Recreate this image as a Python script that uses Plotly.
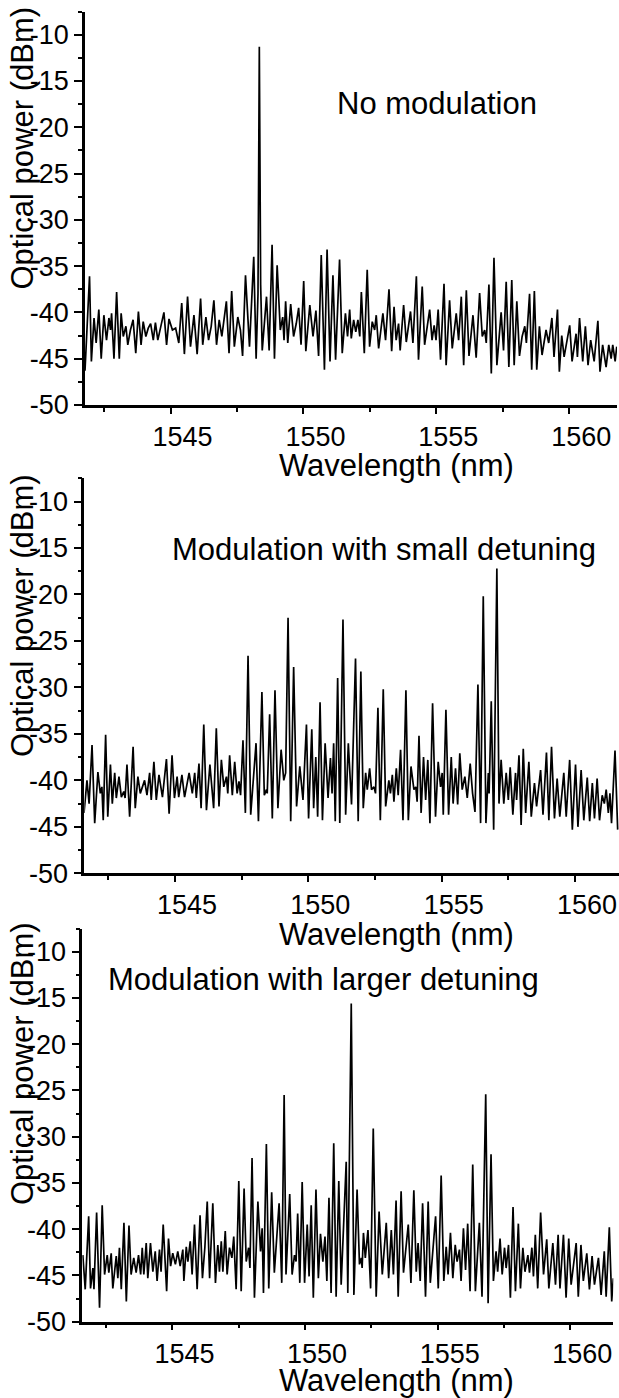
import plotly.graph_objects as go

# ---------------- data (wavelength in nm, optical power in dBm) ----------------
wl_none = [1541.78, 1541.95, 1542.02, 1542.12, 1542.20, 1542.30, 1542.39, 1542.49, 1542.59, 1542.68,
           1542.74, 1542.78, 1542.87, 1542.97, 1543.07, 1543.14, 1543.22, 1543.32, 1543.39, 1543.49,
           1543.59, 1543.69, 1543.79, 1543.89, 1543.97, 1544.07, 1544.16, 1544.25, 1544.35, 1544.43,
           1544.52, 1544.62, 1544.75, 1544.85, 1544.94, 1545.07, 1545.19, 1545.31, 1545.42, 1545.52,
           1545.64, 1545.75, 1545.88, 1546.00, 1546.13, 1546.21, 1546.33, 1546.43, 1546.53, 1546.63,
           1546.73, 1546.83, 1546.93, 1547.10, 1547.20, 1547.30, 1547.40, 1547.53, 1547.63, 1547.71,
           1547.82, 1547.97, 1548.13, 1548.22, 1548.29, 1548.34, 1548.39, 1548.45, 1548.61, 1548.71,
           1548.82, 1548.91, 1549.01, 1549.13, 1549.22, 1549.27, 1549.33, 1549.41, 1549.52, 1549.63,
           1549.73, 1549.82, 1549.91, 1550.01, 1550.09, 1550.24, 1550.36, 1550.47, 1550.57, 1550.67,
           1550.79, 1550.89, 1551.00, 1551.11, 1551.21, 1551.36, 1551.46, 1551.58, 1551.66, 1551.74,
           1551.80, 1551.89, 1551.97, 1552.05, 1552.12, 1552.18, 1552.29, 1552.40, 1552.49, 1552.59,
           1552.68, 1552.74, 1552.83, 1552.99, 1553.09, 1553.22, 1553.32, 1553.41, 1553.49, 1553.58,
           1553.64, 1553.77, 1553.87, 1554.03, 1554.12, 1554.25, 1554.33, 1554.47, 1554.56, 1554.75,
           1554.84, 1554.92, 1554.99, 1555.07, 1555.16, 1555.29, 1555.37, 1555.50, 1555.60, 1555.75,
           1555.84, 1555.94, 1556.03, 1556.13, 1556.23, 1556.38, 1556.50, 1556.63, 1556.73, 1556.82,
           1556.88, 1556.98, 1557.07, 1557.17, 1557.28, 1557.44, 1557.53, 1557.63, 1557.73, 1557.84,
           1557.93, 1558.03, 1558.13, 1558.23, 1558.33, 1558.39, 1558.51, 1558.59, 1558.69, 1558.78,
           1558.88, 1558.98, 1559.13, 1559.23, 1559.35, 1559.43, 1559.56, 1559.63, 1559.72, 1559.81,
           1559.91, 1560.02, 1560.11, 1560.26, 1560.31, 1560.39, 1560.51, 1560.61, 1560.71, 1560.81,
           1560.94, 1561.08, 1561.16, 1561.26, 1561.39, 1561.49, 1561.58, 1561.64, 1561.73, 1561.79]
p_none = [-46.3, -36.1, -45.3, -40.6, -43.3, -39.7, -45.0, -40.3, -43.0, -40.6,
          -41.9, -40.1, -45.0, -37.8, -45.0, -40.1, -42.6, -41.5, -43.5, -41.9,
          -40.8, -44.4, -39.9, -43.5, -41.0, -42.6, -41.7, -41.2, -43.0, -41.1,
          -43.0, -41.7, -40.0, -43.5, -40.7, -41.9, -41.7, -43.3, -39.0, -44.5,
          -38.3, -43.7, -40.3, -44.5, -38.5, -43.5, -40.5, -43.0, -41.5, -38.7,
          -43.5, -40.8, -42.6, -38.8, -44.4, -37.7, -43.7, -40.5, -41.9, -44.7,
          -36.0, -43.7, -34.0, -45.0, -38.0, -11.3, -37.0, -44.1, -38.3, -44.1,
          -32.7, -45.0, -34.9, -41.9, -40.5, -43.0, -38.8, -43.3, -39.1, -42.6,
          -41.2, -39.5, -43.5, -36.6, -44.2, -39.2, -42.6, -39.8, -44.7, -33.8,
          -46.2, -33.2, -45.3, -36.0, -45.1, -34.3, -44.4, -40.1, -42.6, -39.7,
          -42.8, -40.8, -42.1, -40.8, -42.6, -37.8, -44.4, -35.4, -43.7, -41.0,
          -41.9, -40.3, -43.9, -40.1, -43.0, -37.5, -44.2, -39.4, -43.0, -41.2,
          -44.1, -39.2, -43.2, -39.9, -43.3, -36.1, -45.1, -37.2, -43.5, -39.7,
          -43.0, -41.4, -43.0, -39.7, -45.1, -36.9, -45.7, -38.7, -43.9, -40.1,
          -43.0, -38.3, -45.7, -37.6, -44.7, -40.3, -44.9, -37.9, -42.6, -41.9,
          -43.3, -37.0, -46.6, -34.1, -45.7, -40.0, -44.1, -36.7, -45.9, -36.5,
          -45.7, -38.8, -44.7, -42.6, -41.5, -43.3, -38.0, -46.2, -37.7, -46.2,
          -41.5, -44.6, -41.9, -43.3, -40.6, -44.8, -39.7, -46.4, -42.5, -44.8,
          -43.0, -41.4, -45.3, -42.3, -44.8, -40.6, -45.3, -41.5, -45.7, -43.0,
          -45.3, -40.9, -46.4, -43.5, -45.9, -43.5, -45.0, -43.5, -45.3, -43.7]

wl_small = [1541.59, 1541.70, 1541.78, 1541.89, 1541.99, 1542.11, 1542.20, 1542.26, 1542.31, 1542.40,
            1542.48, 1542.58, 1542.65, 1542.74, 1542.80, 1542.90, 1542.99, 1543.08, 1543.13, 1543.20,
            1543.30, 1543.43, 1543.51, 1543.61, 1543.70, 1543.86, 1543.95, 1544.05, 1544.11, 1544.21,
            1544.30, 1544.40, 1544.53, 1544.68, 1544.78, 1544.89, 1544.98, 1545.08, 1545.14, 1545.26,
            1545.36, 1545.53, 1545.65, 1545.74, 1545.80, 1545.90, 1545.98, 1546.08, 1546.18, 1546.31,
            1546.45, 1546.55, 1546.65, 1546.74, 1546.83, 1546.93, 1546.98, 1547.05, 1547.15, 1547.24,
            1547.33, 1547.40, 1547.46, 1547.55, 1547.64, 1547.74, 1547.84, 1547.94, 1548.04, 1548.13,
            1548.26, 1548.35, 1548.43, 1548.46, 1548.55, 1548.65, 1548.75, 1548.86, 1548.98, 1549.08,
            1549.15, 1549.24, 1549.34, 1549.45, 1549.56, 1549.68, 1549.80, 1549.93, 1550.01, 1550.13,
            1550.20, 1550.28, 1550.35, 1550.44, 1550.53, 1550.63, 1550.74, 1550.83, 1550.89, 1550.95,
            1551.01, 1551.10, 1551.18, 1551.30, 1551.40, 1551.50, 1551.62, 1551.77, 1551.87, 1551.97,
            1552.06, 1552.15, 1552.21, 1552.30, 1552.37, 1552.46, 1552.52, 1552.61, 1552.70, 1552.81,
            1552.90, 1553.02, 1553.08, 1553.15, 1553.21, 1553.30, 1553.37, 1553.46, 1553.55, 1553.66,
            1553.75, 1553.85, 1553.96, 1554.03, 1554.08, 1554.15, 1554.23, 1554.32, 1554.40, 1554.48,
            1554.56, 1554.66, 1554.77, 1554.87, 1554.96, 1555.02, 1555.06, 1555.16, 1555.26, 1555.36,
            1555.43, 1555.52, 1555.60, 1555.68, 1555.77, 1555.87, 1555.96, 1556.07, 1556.16, 1556.25,
            1556.36, 1556.46, 1556.56, 1556.66, 1556.75, 1556.78, 1556.86, 1556.95, 1557.07, 1557.15,
            1557.23, 1557.33, 1557.42, 1557.50, 1557.57, 1557.67, 1557.77, 1557.81, 1557.90, 1557.98,
            1558.06, 1558.15, 1558.27, 1558.36, 1558.48, 1558.56, 1558.71, 1558.80, 1558.93, 1559.02,
            1559.12, 1559.23, 1559.33, 1559.43, 1559.58, 1559.67, 1559.80, 1559.90, 1560.02, 1560.11,
            1560.23, 1560.33, 1560.46, 1560.55, 1560.65, 1560.73, 1560.83, 1560.92, 1561.02, 1561.10,
            1561.17, 1561.25, 1561.31, 1561.37, 1561.50, 1561.60]
p_small = [-43.5, -40.0, -42.5, -36.2, -44.6, -39.1, -41.4, -40.7, -44.3, -35.1,
           -43.9, -38.3, -42.5, -39.2, -41.9, -39.6, -41.8, -41.2, -41.9, -38.3,
           -43.9, -36.4, -43.0, -39.6, -41.4, -40.0, -41.6, -39.2, -42.1, -38.0,
           -42.1, -39.4, -41.8, -37.7, -43.6, -37.3, -41.9, -39.6, -41.8, -39.4,
           -41.8, -39.2, -41.4, -39.2, -41.9, -38.2, -43.0, -34.0, -43.2, -38.3,
           -43.0, -34.4, -42.8, -37.8, -40.7, -39.6, -41.4, -37.3, -41.6, -38.0,
           -41.4, -40.1, -41.6, -35.7, -43.5, -26.6, -43.7, -39.6, -36.0, -44.4,
           -30.5, -41.6, -41.0, -41.4, -32.9, -44.1, -30.3, -43.0, -36.7, -40.0,
           -39.2, -22.5, -44.4, -27.8, -42.8, -38.5, -42.1, -34.0, -44.1, -34.5,
           -43.0, -37.5, -43.9, -31.6, -44.3, -36.0, -41.9, -37.6, -41.4, -36.0,
           -44.4, -29.0, -44.6, -22.7, -43.7, -36.0, -42.6, -26.9, -44.4, -28.3,
           -43.0, -39.2, -41.0, -38.7, -41.0, -40.7, -41.4, -32.2, -44.3, -30.2,
           -42.8, -40.0, -41.4, -39.4, -42.3, -38.7, -41.6, -36.7, -44.3, -30.3,
           -44.3, -38.5, -41.0, -40.7, -42.3, -35.2, -43.5, -37.5, -42.1, -37.8,
           -44.6, -31.7, -43.9, -38.0, -40.7, -39.2, -43.7, -32.4, -43.7, -37.5,
           -42.5, -38.7, -42.6, -37.1, -41.0, -39.6, -41.9, -38.2, -41.4, -43.4,
           -29.7, -44.6, -20.2, -44.6, -39.2, -41.4, -31.5, -45.3, -17.2, -42.5,
           -37.8, -42.5, -39.2, -42.1, -38.6, -43.7, -39.2, -42.1, -37.3, -44.8,
           -36.6, -43.5, -38.0, -43.9, -40.3, -42.8, -38.9, -43.7, -37.0, -44.3,
           -36.4, -44.1, -39.8, -43.9, -39.2, -43.9, -37.8, -45.3, -38.3, -45.0,
           -38.9, -44.3, -39.7, -44.4, -40.3, -44.1, -39.8, -44.3, -41.6, -42.5,
           -41.0, -43.5, -41.4, -44.6, -36.8, -45.3]

wl_large = [1541.62, 1541.71, 1541.84, 1541.91, 1542.00, 1542.04, 1542.14, 1542.25, 1542.35, 1542.44,
            1542.54, 1542.60, 1542.69, 1542.75, 1542.88, 1542.94, 1543.00, 1543.07, 1543.17, 1543.26,
            1543.36, 1543.44, 1543.54, 1543.63, 1543.72, 1543.80, 1543.86, 1543.92, 1544.01, 1544.07,
            1544.17, 1544.26, 1544.35, 1544.42, 1544.51, 1544.57, 1544.65, 1544.78, 1544.85, 1544.93,
            1545.01, 1545.11, 1545.20, 1545.29, 1545.39, 1545.43, 1545.52, 1545.58, 1545.67, 1545.74,
            1545.83, 1545.93, 1546.04, 1546.13, 1546.22, 1546.31, 1546.40, 1546.52, 1546.62, 1546.71,
            1546.77, 1546.84, 1546.90, 1546.99, 1547.06, 1547.15, 1547.24, 1547.31, 1547.40, 1547.50,
            1547.59, 1547.70, 1547.78, 1547.87, 1547.92, 1548.00, 1548.09, 1548.22, 1548.32, 1548.38,
            1548.43, 1548.54, 1548.63, 1548.74, 1548.84, 1549.02, 1549.12, 1549.21, 1549.28, 1549.42,
            1549.51, 1549.60, 1549.66, 1549.72, 1549.80, 1549.89, 1549.98, 1550.08, 1550.15, 1550.23,
            1550.31, 1550.41, 1550.50, 1550.58, 1550.67, 1550.75, 1550.82, 1550.90, 1550.98, 1551.08,
            1551.17, 1551.27, 1551.36, 1551.55, 1551.61, 1551.74, 1551.84, 1551.96, 1552.05, 1552.12,
            1552.15, 1552.20, 1552.27, 1552.37, 1552.47, 1552.57, 1552.68, 1552.79, 1552.91, 1553.06,
            1553.15, 1553.25, 1553.33, 1553.43, 1553.51, 1553.62, 1553.71, 1553.89, 1553.99, 1554.10,
            1554.19, 1554.26, 1554.34, 1554.43, 1554.54, 1554.64, 1554.72, 1554.92, 1555.02, 1555.13,
            1555.23, 1555.32, 1555.39, 1555.48, 1555.57, 1555.66, 1555.73, 1555.82, 1555.88, 1555.97,
            1556.05, 1556.13, 1556.22, 1556.32, 1556.42, 1556.57, 1556.67, 1556.81, 1556.90, 1557.01,
            1557.10, 1557.20, 1557.26, 1557.35, 1557.43, 1557.52, 1557.58, 1557.67, 1557.74, 1557.84,
            1557.93, 1558.04, 1558.12, 1558.21, 1558.29, 1558.40, 1558.46, 1558.55, 1558.61, 1558.68,
            1558.77, 1558.88, 1558.99, 1559.11, 1559.19, 1559.34, 1559.44, 1559.54, 1559.61, 1559.74,
            1559.84, 1559.94, 1560.03, 1560.22, 1560.30, 1560.40, 1560.49, 1560.62, 1560.72, 1560.82,
            1560.91, 1561.06, 1561.16, 1561.28, 1561.35, 1561.47, 1561.56, 1561.62]
p_large = [-42.8, -46.5, -38.6, -46.4, -44.2, -46.5, -38.2, -48.5, -37.4, -44.9,
           -42.8, -44.7, -42.6, -46.4, -42.9, -45.3, -42.0, -46.5, -39.3, -47.8,
           -39.6, -44.9, -43.1, -44.7, -42.8, -44.9, -42.0, -44.9, -41.5, -45.3,
           -41.5, -44.6, -42.4, -45.6, -42.2, -44.6, -39.5, -46.7, -41.0, -44.0,
           -42.6, -43.8, -42.4, -44.0, -42.2, -45.6, -41.9, -43.5, -41.3, -44.9,
           -39.5, -46.5, -38.5, -45.3, -42.0, -37.0, -45.3, -37.2, -45.8, -41.7,
           -44.6, -41.3, -44.6, -40.2, -44.9, -42.0, -43.1, -40.8, -46.5, -34.8,
           -46.7, -35.6, -43.5, -42.0, -44.2, -32.3, -47.4, -37.0, -42.4, -39.9,
           -46.9, -30.8, -46.4, -36.0, -44.7, -37.2, -45.8, -25.5, -44.9, -36.2,
           -44.9, -42.8, -43.5, -38.3, -45.8, -34.9, -45.8, -39.5, -45.1, -37.4,
           -47.4, -35.7, -45.3, -40.5, -43.5, -40.8, -45.6, -36.6, -46.9, -30.7,
           -47.3, -34.8, -46.0, -32.7, -46.9, -15.6, -47.1, -35.7, -43.8, -43.1,
           -44.2, -40.4, -43.1, -40.1, -46.4, -29.1, -47.3, -38.1, -44.9, -39.3,
           -45.3, -40.1, -44.9, -36.9, -47.3, -35.9, -44.7, -39.5, -45.8, -35.8,
           -44.6, -41.5, -45.6, -37.2, -47.3, -37.0, -45.8, -38.6, -46.4, -34.2,
           -45.6, -41.9, -44.9, -40.4, -45.3, -41.7, -43.5, -42.2, -45.6, -39.9,
           -44.4, -39.4, -46.7, -33.0, -46.7, -39.3, -47.3, -25.4, -48.0, -31.9,
           -45.6, -42.4, -44.6, -41.0, -44.9, -42.0, -44.2, -41.7, -47.4, -37.6,
           -46.7, -39.4, -46.4, -42.0, -44.6, -42.8, -44.7, -42.0, -45.1, -40.6,
           -46.4, -38.2, -44.9, -41.1, -46.4, -41.5, -46.0, -40.6, -46.4, -40.6,
           -47.4, -41.0, -46.0, -41.5, -47.3, -41.7, -45.6, -42.6, -46.5, -42.9,
           -46.0, -43.1, -47.1, -42.4, -47.3, -39.8, -47.8, -45.3]

panel_labels = ["No modulation", "Modulation with small detuning", "Modulation with larger detuning"]
x_ticks = [1545, 1550, 1555, 1560]
y_ticks = [-50, -45, -40, -35, -30, -25, -20, -15, -10]
x_title = "Wavelength (nm)"
y_title = "Optical power (dBm)"

# ---------------- figure ----------------
W, H = 619, 1398
FONT = "Liberation Sans, Arial, sans-serif"

series = [(wl_none, p_none), (wl_small, p_small), (wl_large, p_large)]
# pixel geometry of each panel (left, right, top, bottom) and x range
panels = [
    dict(l=85, r=617, t=11.5, b=405, xr=[1541.78, 1561.8]),
    dict(l=84.3, r=619, t=478.3, b=873.3, xr=[1541.6, 1561.65]),
    dict(l=82.3, r=613.3, t=928.6, b=1321.7, xr=[1541.6, 1561.62]),
]

fig = go.Figure()
layout = dict(
    width=W, height=H,
    margin=dict(l=0, r=0, t=0, b=0),
    paper_bgcolor="white", plot_bgcolor="white",
    showlegend=False,
    font=dict(family=FONT, color="black"),
    annotations=[],
)

for i, ((xs, ys), pg) in enumerate(zip(series, panels)):
    n = "" if i == 0 else str(i + 1)
    fig.add_trace(go.Scatter(x=xs, y=ys, mode="lines",
                             line=dict(color="black", width=1.7),
                             xaxis="x" + n, yaxis="y" + n, hoverinfo="skip"))
    layout["xaxis" + n] = dict(
        domain=[pg["l"] / W, pg["r"] / W], range=pg["xr"], anchor="y" + n,
        showline=True, linecolor="black", linewidth=2.5,
        ticks="outside", ticklen=6, tickwidth=2, tickcolor="black",
        tickmode="array", tickvals=x_ticks, ticktext=[str(v) for v in x_ticks],
        tickfont=dict(size=27, family=FONT, color="black"),
        ticklabelshift=12, ticklabelstandoff=0,
        minor=dict(ticks="outside", ticklen=4, tickwidth=2, tickcolor="black",
                   dtick=2.5, tick0=1542.5, showgrid=False),
        showgrid=False, zeroline=False, automargin=False,
    )
    layout["yaxis" + n] = dict(
        domain=[1 - pg["b"] / H, 1 - pg["t"] / H], range=[-50, -7.5], anchor="x" + n,
        showline=True, linecolor="black", linewidth=2.5,
        ticks="outside", ticklen=8, tickwidth=2, tickcolor="black",
        tickmode="array", tickvals=y_ticks, ticktext=[str(v) for v in y_ticks],
        tickfont=dict(size=27, family=FONT, color="black"),
        minor=dict(ticks="outside", ticklen=4, tickwidth=2, tickcolor="black",
                   dtick=2.5, tick0=-50, showgrid=False),
        showgrid=False, zeroline=False, automargin=False,
    )

# panel labels
label_pos = [(437, 104), (384, 549), (323, 979)]
for txt, (px, py) in zip(panel_labels, label_pos):
    layout["annotations"].append(dict(
        text=txt, x=px / W, y=1 - py / H, xref="paper", yref="paper",
        xanchor="center", yanchor="middle", showarrow=False,
        font=dict(size=31, family=FONT, color="black")))

# axis titles
xt_pos = [(396, 466), (396, 934), (396, 1380)]
yt_pos = [(22, 148.5), (22, 616), (22, 1064)]
for (px, py) in xt_pos:
    layout["annotations"].append(dict(
        text=x_title, x=px / W, y=1 - py / H, xref="paper", yref="paper",
        xanchor="center", yanchor="middle", showarrow=False,
        font=dict(size=31, family=FONT, color="black")))
for (px, py) in yt_pos:
    layout["annotations"].append(dict(
        text=y_title, x=px / W, y=1 - py / H, xref="paper", yref="paper",
        xanchor="center", yanchor="middle", showarrow=False, textangle=-90,
        font=dict(size=31, family=FONT, color="black")))

fig.update_layout(**layout)
fig.write_html("out.html", config={"displayModeBar": False},
               post_script="document.body.style.margin='0px';document.body.style.overflow='hidden';")
